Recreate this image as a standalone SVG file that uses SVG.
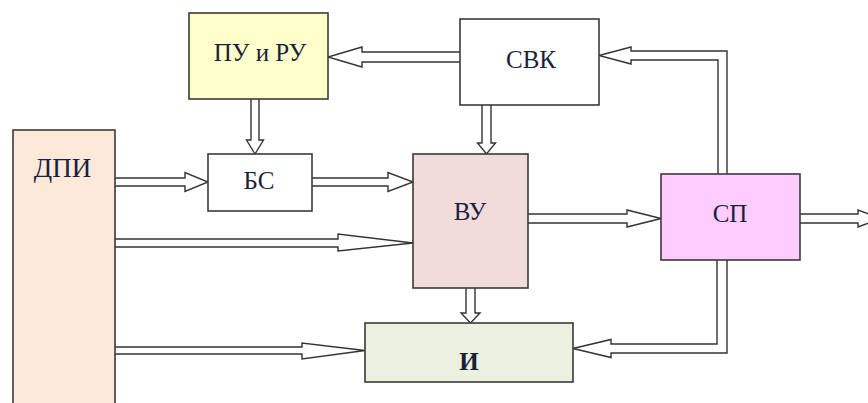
<svg xmlns="http://www.w3.org/2000/svg" width="868" height="403" viewBox="0 0 868 403">
<style>
.box{stroke:#3a3a3a;stroke-width:1.6}
.lbl{font-family:"Liberation Serif","Times New Roman",serif;font-size:25px;fill:#1b1f3b;text-anchor:middle}
.arr{fill:#fff;stroke:#333;stroke-width:1.4;stroke-linejoin:miter}
</style>
<rect width="868" height="403" fill="#fff"/>
<g id="connectors">
<path class="arr" d="M115,178 H185 V172.5 L208,182 L185,191.5 V186 H115"/>
<path class="arr" d="M312,178 H388 V172.5 L413,182 L388,191.5 V186 H312"/>
<path class="arr" d="M115,239 H338 V234 L413,243 L338,251 V247 H115"/>
<path class="arr" d="M115,347 H302 V343 L365,350.5 L302,359 V354 H115"/>
<path class="arr" d="M251,99 V140 H246.5 L255,154 L263.5,140 H259 V99"/>
<path class="arr" d="M460,52 H362 V47 L328,57 L362,67 V62 H460"/>
<path class="arr" d="M482,105 V143 H477.5 L486.5,154 L495.5,143 H491 V105"/>
<path class="arr" d="M466,288 V313 H461 L470.5,323 L480,313 H475 V288"/>
<path class="arr" d="M528,214 H627 V210 L661,218.5 L627,227 V223 H528"/>
<path class="arr" d="M800,214 H858 V210 L880,218.5 L858,227 V223 H800"/>
<path class="arr" d="M727,174 V51 H631 V47 L599,55.5 L631,64 V60 H718 V174"/>
<path class="arr" d="M717,260 V344 H611 V339.5 L573,348.5 L611,357.5 V353 H727 V260"/>
</g>
<g id="node-puru"><rect class="box" x="189" y="13" width="139" height="86" fill="#FFFFCC"/><text class="lbl" x="260" y="61">ПУ и РУ</text></g>
<g id="node-svk"><rect class="box" x="460" y="19" width="139" height="86" fill="#FFFFFF"/><text class="lbl" x="531" y="68">СВК</text></g>
<g id="node-dpi"><rect class="box" x="13" y="130" width="102" height="290" fill="#FCE9DA"/><text class="lbl" x="62.5" y="177" style="font-size:27px">ДПИ</text></g>
<g id="node-bs"><rect class="box" x="208" y="154" width="104" height="57" fill="#FFFFFF"/><text class="lbl" x="259" y="189">БС</text></g>
<g id="node-vu"><rect class="box" x="413" y="154" width="115" height="134" fill="#F2DCDB"/><text class="lbl" x="470" y="220">ВУ</text></g>
<g id="node-sp"><rect class="box" x="661" y="174" width="139" height="86" fill="#FFCCFF"/><text class="lbl" x="730" y="222">СП</text></g>
<g id="node-i"><rect class="box" x="365" y="323" width="208" height="59" fill="#EBF1DE"/><text class="lbl" x="469" y="370" font-weight="bold">И</text></g>
</svg>
